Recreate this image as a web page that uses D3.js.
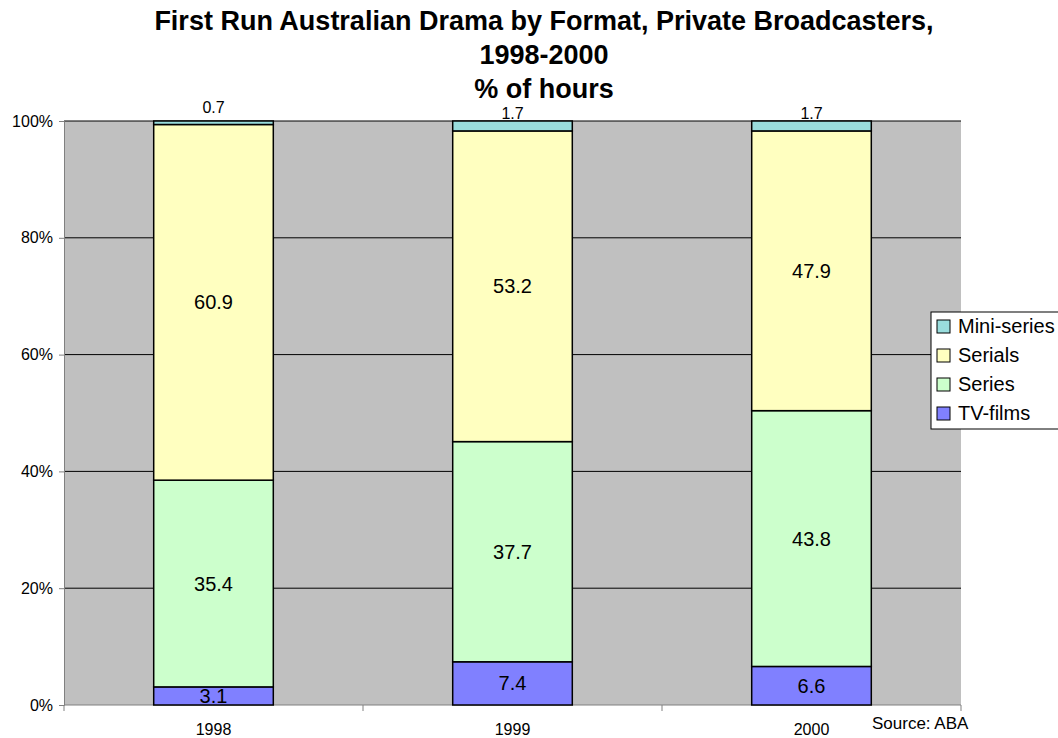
<!DOCTYPE html>
<html>
<head>
<meta charset="utf-8">
<script src="https://cdn.jsdelivr.net/npm/d3@7"></script>
<style>
  body { margin: 0; background: #fff; }
  text { font-family: "Liberation Sans", Arial, sans-serif; }
</style>
</head>
<body>
<div id="chart"></div>
<script>
// data
var years = ["1998", "1999", "2000"]
var tvFilms = [3.1, 7.4, 6.6]
var series = [35.4, 37.7, 43.8]
var serials = [60.9, 53.2, 47.9]
var miniSeries = [0.7, 1.7, 1.7]
var yTicks = [0, 20, 40, 60, 80, 100]
var keys = ["TV-films", "Series", "Serials", "Mini-series"]
var legendOrder = ["Mini-series", "Serials", "Series", "TV-films"]

var data = years.map(function (y, i) {
    return { year: y, "TV-films": tvFilms[i], "Series": series[i], "Serials": serials[i], "Mini-series": miniSeries[i] }
})

var W = 1058, H = 738
var margin = { top: 121, right: 97, bottom: 33, left: 64 },
    width = W - margin.left - margin.right,
    height = H - margin.top - margin.bottom

var svg = d3.select("#chart").append("svg")
    .attr("width", W)
    .attr("height", H)

// title
var title = ["First Run Australian Drama by Format, Private Broadcasters,", "1998-2000", "% of hours"]
svg.append("g").selectAll("text")
    .data(title)
    .enter().append("text")
    .attr("x", 544)
    .attr("y", function (d, i) { return 30 + i * 34 })
    .attr("text-anchor", "middle")
    .attr("font-size", "27px")
    .attr("font-weight", "bold")
    .text(function (d) { return d })

var g = svg.append("g").attr("transform", "translate(" + margin.left + "," + margin.top + ")")

var x = d3.scaleBand().domain(years).range([0, width]).paddingInner(0.6).paddingOuter(0.3)
var xb = d3.scaleBand().domain(years).range([0, width])
var y = d3.scaleLinear().domain([0, 100]).range([height, 0])

var color = d3.scaleOrdinal()
    .domain(keys)
    .range(["#8080FF", "#CCFFCC", "#FFFFC0", "#99DDDD"])

// plot background
g.append("rect")
    .attr("width", width).attr("height", height)
    .attr("fill", "#C0C0C0")

// gridlines
g.append("g").selectAll("line")
    .data(yTicks.slice(1))
    .enter().append("line")
    .attr("x1", 0).attr("x2", width)
    .attr("y1", function (d) { return y(d) }).attr("y2", function (d) { return y(d) })
    .attr("stroke", "#000").attr("stroke-width", 1)

// y axis
var yAxis = g.append("g")
    .call(d3.axisLeft(y).tickValues(yTicks).tickSize(5).tickPadding(6).tickFormat(function (d) { return d + "%" }))
yAxis.select(".domain").attr("stroke", "#808080")
yAxis.selectAll(".tick line").attr("stroke", "#808080")
yAxis.selectAll("text").attr("font-size", "16px").attr("fill", "#000")

// x axis: ticks at category boundaries
var xAxis = g.append("g").attr("transform", "translate(0," + height + ")")
xAxis.append("line").attr("x1", 0).attr("x2", width).attr("stroke", "#808080")
xAxis.selectAll("line.tk")
    .data(d3.range(years.length + 1))
    .enter().append("line")
    .attr("class", "tk")
    .attr("x1", function (d) { return d * xb.step() }).attr("x2", function (d) { return d * xb.step() })
    .attr("y1", 0).attr("y2", 6)
    .attr("stroke", "#808080")
xAxis.selectAll("text")
    .data(years)
    .enter().append("text")
    .attr("x", function (d) { return x(d) + x.bandwidth() / 2 })
    .attr("y", 30)
    .attr("text-anchor", "middle")
    .attr("font-size", "16px")
    .text(function (d) { return d })

// stacked bars
var stacked = d3.stack().keys(keys)(data)

var layer = g.append("g").selectAll("g")
    .data(stacked)
    .enter().append("g")
    .attr("fill", function (d) { return color(d.key) })

layer.selectAll("rect")
    .data(function (d) { return d })
    .enter().append("rect")
    .attr("x", function (d) { return x(d.data.year) })
    .attr("y", function (d) { return y(Math.min(d[1], 100)) })
    .attr("height", function (d) { return y(d[0]) - y(Math.min(d[1], 100)) })
    .attr("width", x.bandwidth())
    .attr("stroke", "#000")
    .attr("stroke-width", 1.5)

// value labels
stacked.forEach(function (s) {
    g.append("g").selectAll("text")
        .data(s)
        .enter().append("text")
        .attr("x", function (d) { return x(d.data.year) + x.bandwidth() / 2 })
        .attr("y", function (d) {
            if (s.key == "Mini-series") return y(100) - 8 + (d.data[s.key] > 1 ? 6 : 0)
            return (y(d[0]) + y(d[1])) / 2 + 7
        })
        .attr("text-anchor", "middle")
        .attr("font-size", s.key == "Mini-series" ? "16px" : "20px")
        .text(function (d) { return d.data[s.key] })
})

// legend
var lg = svg.append("g").attr("transform", "translate(931,312)")
lg.append("rect")
    .attr("width", 140).attr("height", 117)
    .attr("fill", "#fff").attr("stroke", "#000")
var li = lg.selectAll("g.it")
    .data(legendOrder)
    .enter().append("g")
    .attr("class", "it")
    .attr("transform", function (d, i) { return "translate(6," + (8 + i * 29) + ")" })
li.append("rect")
    .attr("width", 13).attr("height", 13)
    .attr("fill", function (d) { return color(d) })
    .attr("stroke", "#000")
li.append("text")
    .attr("x", 21).attr("y", 13)
    .attr("font-size", "20px")
    .text(function (d) { return d })

// source note
svg.append("text")
    .attr("x", 872).attr("y", 729)
    .attr("font-size", "17px")
    .text("Source: ABA")
</script>
</body>
</html>
